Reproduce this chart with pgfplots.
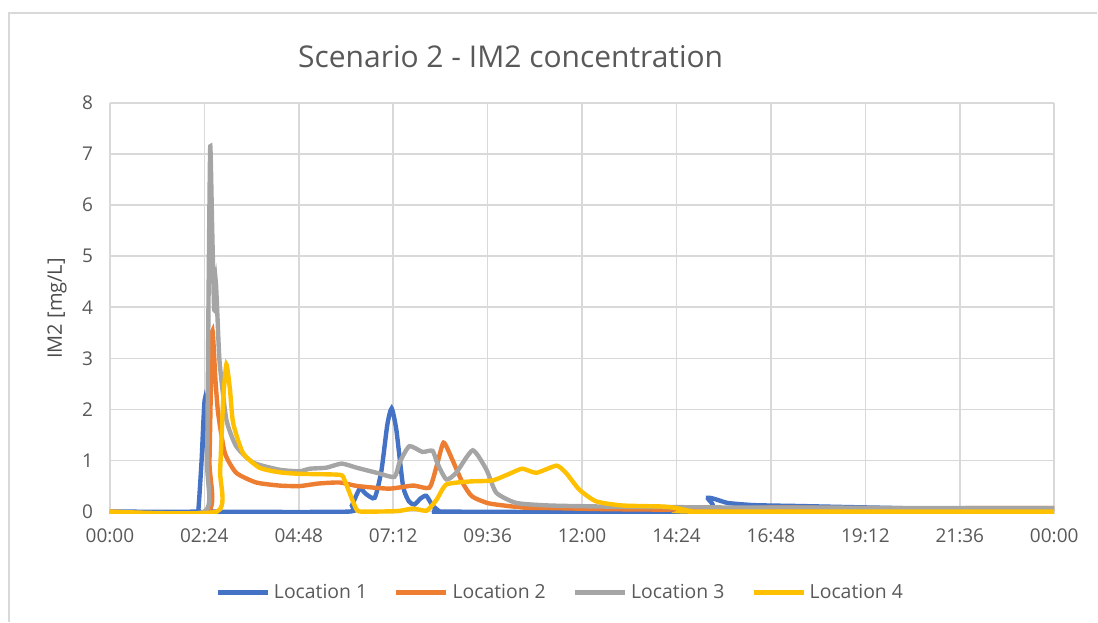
\documentclass[border=0pt]{standalone}
\usepackage{pgfplots}
\pgfplotsset{compat=1.18}
\usepackage{fontspec}
\setmainfont{Open Sans}
\definecolor{txt}{HTML}{595959}
\definecolor{gridc}{HTML}{D9D9D9}
\definecolor{locA}{HTML}{4472C4}
\definecolor{locB}{HTML}{ED7D31}
\definecolor{locC}{HTML}{A5A5A5}
\definecolor{locD}{HTML}{FFC000}
\begin{document}
\begin{tikzpicture}
% canvas 1098x622 px at 0.5pt per px
\path (0,0) rectangle (549pt,311pt);
\draw[gridc, line width=0.8pt] (4.5pt,0pt) -- (4.5pt,304.5pt) -- (549pt,304.5pt);
\node[font=\fontsize{15}{17}\selectfont, text=txt] at (255.5pt,282.5pt) {Scenario 2 - IM2 concentration};
% ymin a little below 0 so the zero lines are not cut in half by the clip
\begin{axis}[
    at={(55pt,53.85pt)}, anchor=south west,
    scale only axis, width=472.5pt, height=205.65pt,
    xmin=0, xmax=24, ymin=-0.045, ymax=8,
    xtick={0,2.4,4.8,7.2,9.6,12,14.4,16.8,19.2,21.6,24},
    xticklabels={00:00,02:24,04:48,07:12,09:36,12:00,14:24,16:48,19:12,21:36,00:00},
    ytick={0,1,...,8},
    /pgf/number format/assume math mode=true,
    tick label style={font=\fontsize{9.5}{11}\selectfont, text=txt},
    xticklabel style={yshift=-3.85pt},
    yticklabel style={xshift=-5pt},
    grid=major, major grid style={gridc, line width=0.8pt},
    axis line style={draw=none}, tick style={draw=none},
    ylabel={IM2 [mg/L]},
    ylabel style={at={(axis description cs:-0.056,0.5)}, anchor=center,
      font=\fontsize{10}{12}\selectfont, text=txt!85!black},
    legend columns=4,
    legend style={at={(0.478,-0.191)}, anchor=center, draw=none, fill=none,
      font=\fontsize{9.7}{11}\selectfont, text=txt,
      /tikz/every even column/.append style={column sep=11.5pt}},
    legend image code/.code={\draw[#1] (0pt,0pt) -- (25pt,0pt);},
    every axis plot/.append style={line width=2.2pt, smooth, tension=0.35},
]
\addplot[locA, line width=2.2pt] coordinates {
 (0,0) (2.2,0) (2.25,0.05) (2.33,1.0) (2.41,2.19) (2.48,1.0) (2.56,0.05) (2.6,0)
 (6.05,0) (6.15,0.12) (6.35,0.45) (6.5,0.35) (6.73,0.27) (6.9,0.8) (7.05,1.7)
 (7.16,2.02) (7.28,1.6) (7.45,0.5) (7.6,0.2) (7.74,0.14) (7.9,0.26) (8.04,0.31)
 (8.2,0.12) (8.37,0.01) (8.5,0) (15.0,0) (15.2,0.27) (15.7,0.17) (16.3,0.13)
 (16.75,0.12) (17.5,0.11) (18.7,0.09) (20,0.07) (21,0.05) (22,0.05) (23,0.05) (24,0.05)
};
\addlegendentry{Location 1}
\addplot[locB, line width=2.2pt] coordinates {
 (0,0) (2.48,0) (2.53,1.0) (2.6,3.53) (2.68,2.6) (2.75,1.93) (2.92,1.15) (3.21,0.76)
 (3.72,0.57) (4.31,0.51) (4.82,0.5) (5.3,0.55) (5.84,0.57) (6.3,0.5) (7.1,0.45)
 (7.7,0.51) (8.12,0.47) (8.3,0.88) (8.48,1.35) (8.7,1.02) (8.96,0.57) (9.2,0.3)
 (9.64,0.16) (10.5,0.08) (11.2,0.07) (12.5,0.05) (14,0.04) (15.5,0.05) (17,0.08)
 (19,0.06) (20.5,0.05) (22,0.07) (24,0.07)
};
\addlegendentry{Location 2}
\addplot[locC, line width=2.2pt] coordinates {
 (0,0) (2.4,0) (2.47,1.0) (2.51,4.5) (2.55,7.15) (2.6,5.5) (2.65,3.95) (2.69,4.5)
 (2.74,3.7) (2.79,2.9) (2.96,1.8) (3.21,1.28) (3.64,0.96) (4.31,0.82) (4.82,0.79)
 (5.08,0.84) (5.5,0.86) (5.89,0.94) (6.27,0.86) (6.78,0.76) (7.23,0.68) (7.36,0.96)
 (7.61,1.28) (7.94,1.17) (8.2,1.19) (8.32,0.95) (8.55,0.63) (8.8,0.76) (9.22,1.2)
 (9.57,0.82) (9.82,0.37) (10.33,0.17) (11.17,0.12) (12.5,0.1) (14,0.09) (16,0.08)
 (18,0.08) (20,0.07) (22,0.07) (24,0.07)
};
\addlegendentry{Location 3}
\addplot[locD, line width=2.2pt] coordinates {
 (0,0) (2.72,0) (2.8,0.8) (2.88,2.2) (2.96,2.88) (3.05,2.4) (3.13,1.74) (3.38,1.15)
 (3.8,0.86) (4.31,0.77) (4.82,0.74) (5.84,0.72) (5.96,0.62) (6.14,0.27) (6.27,0.04)
 (6.4,0) (7.3,0.01) (7.7,0.06) (8.05,0.02) (8.3,0.23) (8.55,0.53) (9.14,0.59)
 (9.72,0.61) (10.15,0.74) (10.48,0.84) (10.84,0.76) (11.35,0.9) (11.6,0.75)
 (11.93,0.43) (12.36,0.2) (13.03,0.12) (14.04,0.1) (14.4,0.07) (14.7,0.02) (15,0) (24,0)
};
\addlegendentry{Location 4}
\end{axis}
\end{tikzpicture}
\end{document}
